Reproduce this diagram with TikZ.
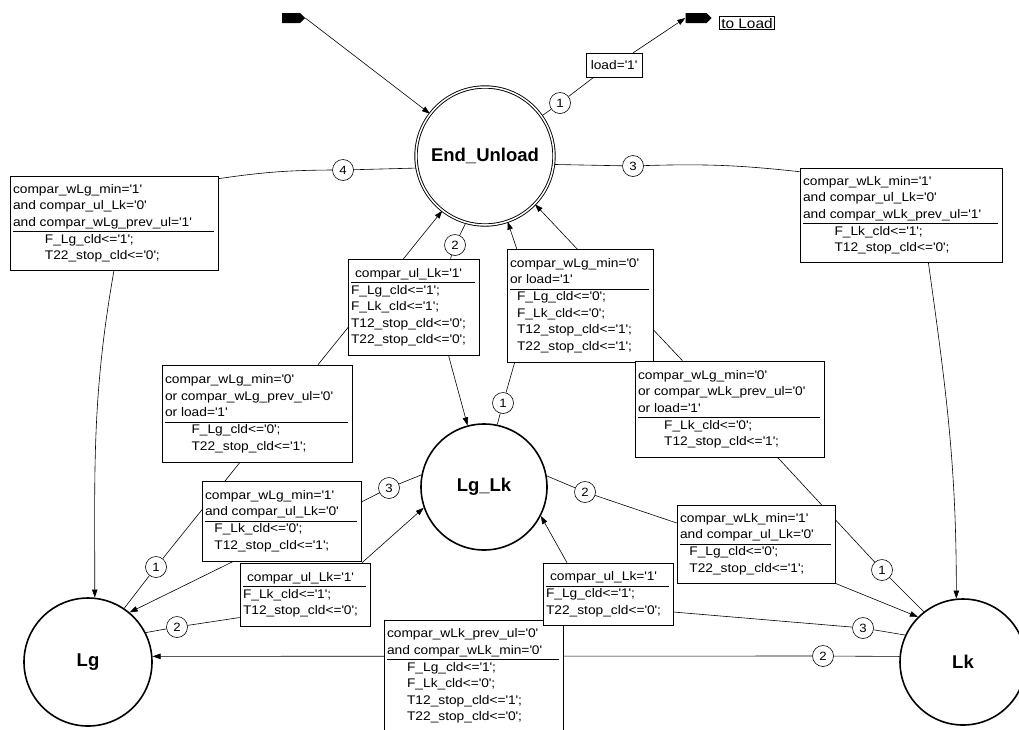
\documentclass[tikz,border=0pt]{standalone}
\usepackage{fontspec}
\usepackage{tikz}
\usetikzlibrary{arrows.meta,shapes.symbols,backgrounds}
\newfontfamily\lblfont[FakeStretch=1.1]{Liberation Sans}
\newfontfamily\statefont{Liberation Sans}
\newcommand{\tq}{\textquotesingle}
\newlength\gpad
\newcommand{\guard}[3]{%
  \settowidth{\gpad}{\begin{tabular}{@{}c@{}}\begin{tabular}{@{}l@{}}#2\end{tabular}\\\begin{tabular}{@{}l@{}}#3\end{tabular}\end{tabular}}%
  \setlength{\gpad}{\dimexpr#1-\gpad-7pt\relax}%
  \makebox[#1][l]{\hspace{3pt}\begin{tabular}{@{}c@{\hspace{\gpad}}}%
  \begin{tabular}{@{}l@{}}#2\end{tabular}\\\hline
  \begin{tabular}{@{}l@{}}#3\end{tabular}\end{tabular}}}

\begin{document}
\begin{tikzpicture}[x=1pt,y=-1pt,
  state/.style={circle,draw,line width=1.6pt,inner sep=0pt,font=\statefont\bfseries\fontsize{18.5}{22}\selectfont},
  prio/.style={circle,draw,fill=white,line width=0.6pt,minimum size=21pt,inner sep=0pt,font=\lblfont\fontsize{12}{14}\selectfont},
  guard/.style={draw,fill=white,line width=0.6pt,inner sep=0pt,font=\lblfont\fontsize{12.5}{16.5}\selectfont},
  termshape/.style={signal,signal to=east,fill=black,draw=none,inner sep=0pt,minimum height=10pt},
  tr/.style={line width=0.6pt},
  arr/.style={-{Triangle[length=8pt,width=5.5pt]}}]

  \useasboundingbox (0,0) rectangle (1019,729);

  \node[state,double,double distance=1.5pt,line width=0.9pt,minimum size=138pt] (EU) at (485,156) {End\_Unload};
  \node[state,minimum size=126pt] (LL) at (484,487) {Lg\_Lk};
  \node[state,minimum size=128pt] (Lg) at (88,662) {Lg};
  \node[state,minimum size=126pt] (Lk) at (963,662) {Lk};

  \node[termshape,minimum width=23pt] (init) at (291,18) {};
  \node[termshape,minimum width=26pt] (out) at (696,18) {};
  \node[draw,line width=0.6pt,inner xsep=2pt,inner ysep=1.5pt,font=\lblfont\fontsize{14}{16}\selectfont] (toload) at (747,23) {to Load};

  \node[prio] (eu1) at (560,103) {1};
  \node[prio] (eu2) at (455,245) {2};
  \node[prio] (eu3) at (633,166) {3};
  \node[prio] (eu4) at (343,170) {4};
  \node[prio] (ll1) at (503,403) {1};
  \node[prio] (ll2) at (585,492) {2};
  \node[prio] (ll3) at (389,488) {3};
  \node[prio] (lg1) at (156,567) {1};
  \node[prio] (lg2) at (177,627) {2};
  \node[prio] (lk1) at (882,570) {1};
  \node[prio] (lk2) at (823,656) {2};
  \node[prio] (lk3) at (863,628) {3};

  \node[guard,minimum height=24pt] (ceu1) at (614,65) {\makebox[56pt]{load=\tq1\tq}};
  \node[guard,minimum height=96pt] (ceu2) at (413.5,307) {\guard{131pt}{compar\_ul\_Lk=\tq1\tq}{F\_Lg\_cld<=\tq1\tq;\\F\_Lk\_cld<=\tq1\tq;\\T12\_stop\_cld<=\tq0\tq;\\T22\_stop\_cld<=\tq0\tq;}};
  \node[guard,minimum height=94pt] (ceu3) at (901,215) {\guard{202pt}{compar\_wLk\_min=\tq1\tq\\and compar\_ul\_Lk=\tq0\tq\\and compar\_wLk\_prev\_ul=\tq1\tq}{F\_Lk\_cld<=\tq1\tq;\\T12\_stop\_cld<=\tq0\tq;}};
  \node[guard,minimum height=94pt] (ceu4) at (114,223) {\guard{208pt}{compar\_wLg\_min=\tq1\tq\\and compar\_ul\_Lk=\tq0\tq\\and compar\_wLg\_prev\_ul=\tq1\tq}{F\_Lg\_cld<=\tq1\tq;\\T22\_stop\_cld<=\tq0\tq;}};
  \node[guard,minimum height=113pt] (cll1) at (580,305.5) {\guard{146pt}{compar\_wLg\_min=\tq0\tq\\or load=\tq1\tq}{F\_Lg\_cld<=\tq0\tq;\\F\_Lk\_cld<=\tq0\tq;\\T12\_stop\_cld<=\tq1\tq;\\T22\_stop\_cld<=\tq1\tq;}};
  \node[guard,minimum height=78pt] (cll2) at (756,544) {\guard{158pt}{compar\_wLk\_min=\tq1\tq\\and compar\_ul\_Lk=\tq0\tq}{F\_Lg\_cld<=\tq0\tq;\\T22\_stop\_cld<=\tq1\tq;}};
  \node[guard,minimum height=80pt] (cll3) at (281.5,521) {\guard{159pt}{compar\_wLg\_min=\tq1\tq\\and compar\_ul\_Lk=\tq0\tq}{F\_Lk\_cld<=\tq0\tq;\\T12\_stop\_cld<=\tq1\tq;}};
  \node[guard,minimum height=97pt] (clg1) at (257,413.5) {\guard{190pt}{compar\_wLg\_min=\tq0\tq\\or compar\_wLg\_prev\_ul=\tq0\tq\\or load=\tq1\tq}{F\_Lg\_cld<=\tq0\tq;\\T22\_stop\_cld<=\tq1\tq;}};
  \node[guard,minimum height=63pt] (clg2) at (305,594.5) {\guard{130pt}{compar\_ul\_Lk=\tq1\tq}{F\_Lk\_cld<=\tq1\tq;\\T12\_stop\_cld<=\tq0\tq;}};
  \node[guard,minimum height=96pt] (clk1) at (729.5,409) {\guard{189pt}{compar\_wLg\_min=\tq0\tq\\or compar\_wLk\_prev\_ul=\tq0\tq\\or load=\tq1\tq}{F\_Lk\_cld<=\tq0\tq;\\T12\_stop\_cld<=\tq1\tq;}};
  \node[guard,minimum height=112pt] (clk2) at (473.5,676) {\guard{179pt}{compar\_wLk\_prev\_ul=\tq0\tq\\and compar\_wLk\_min=\tq0\tq}{F\_Lg\_cld<=\tq1\tq;\\F\_Lk\_cld<=\tq0\tq;\\T12\_stop\_cld<=\tq1\tq;\\T22\_stop\_cld<=\tq0\tq;}};
  \node[guard,minimum height=62pt] (clk3) at (608,594) {\guard{130pt}{compar\_ul\_Lk=\tq1\tq}{F\_Lg\_cld<=\tq1\tq;\\T22\_stop\_cld<=\tq0\tq;}};

  \begin{pgfonlayer}{background}
    \fill[white] (0,0) rectangle (1019,729);
    \draw[tr,arr] (init.east) -- (EU);
    \draw[tr] (EU) -- (eu1);
    \draw[tr] (eu1) -- ([xshift=8pt]ceu1.south west);
    \draw[tr,arr] ([xshift=-9pt]ceu1.north east) -- (out.west);

    \draw[tr] (EU.-106) -- (eu2);
    \draw[tr] (eu2) -- ([xshift=37pt]ceu2.north);
    \draw[tr,arr] ([xshift=35pt]ceu2.south) to[out=-75,in=105] (LL.105);

    \draw[tr] (EU.-7) -- (eu3);
    \draw[tr] (eu3) to[bend left=4] ([yshift=-4pt]ceu3.north west);
    \draw[tr,arr] (ceu3.-60) to[out=-82,in=90] (Lk.96);

    \draw[tr] (EU.190) -- (eu4);
    \draw[tr] (eu4) to[bend right=4] ([yshift=-3pt]ceu4.north east);
    \draw[tr,arr] (ceu4.south) to[out=-100,in=90] (Lg.84);

    \draw[tr] (LL.78) -- (ll1);
    \draw[tr] (ll1) -- ([xshift=8pt]cll1.south west);
    \draw[tr,arr] ([xshift=10pt]cll1.north west) -- (EU.-71);

    \draw[tr] (LL.10) -- (ll2);
    \draw[tr] (ll2) -- ([yshift=21pt]cll2.west);
    \draw[tr,arr] (cll2.south east) -- (Lk.135);

    \draw[tr] (LL.169) -- (ll3);
    \draw[tr] (ll3) -- ([yshift=19pt]cll3.east);
    \draw[tr,arr] ([xshift=-48pt]cll3.south) -- (Lg.50);

    \draw[tr] (Lg.56) -- (lg1);
    \draw[tr] (lg1) -- ([xshift=-17pt]clg1.south);
    \draw[tr,arr] ([xshift=61pt]clg1.north) -- (EU.-128);

    \draw[tr] (Lg.27) -- (lg2);
    \draw[tr] (lg2) -- ([yshift=-23pt]clg2.west);
    \draw[tr,arr] ([xshift=57pt]clg2.north) -- (LL.199);

    \draw[tr] (Lk.128) -- (lk1);
    \draw[tr] (lk1) -- ([xshift=48pt]clk1.south);
    \draw[tr,arr] ([xshift=-47pt]clk1.north) -- (EU.-44);

    \draw[tr] (Lk.175) -- (lk2);
    \draw[tr,arr] (lk2) -- (Lg.5);

    \draw[tr] (Lk.155) -- (lk3);
    \draw[tr] (lk3) -- ([yshift=-18pt]clk3.east);
    \draw[tr,arr] ([xshift=-41pt]clk3.north) -- (LL.-27);
  \end{pgfonlayer}
\end{tikzpicture}
\end{document}
